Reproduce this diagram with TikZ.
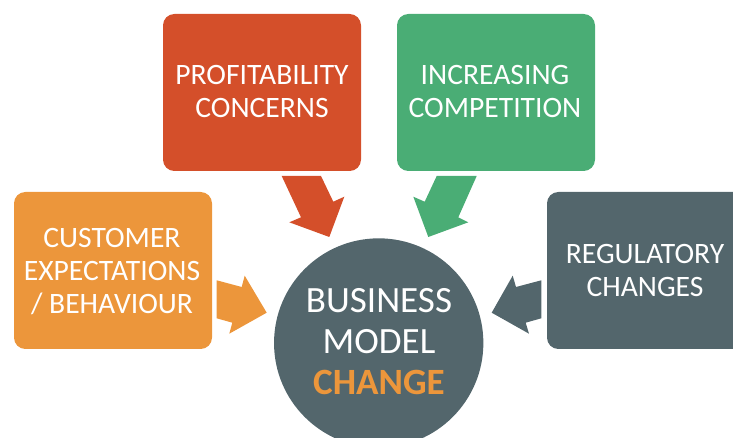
\documentclass[tikz,border=0pt]{standalone}
\usepackage{fontspec}
\setmainfont{Carlito}
\definecolor{cred}{HTML}{D44F2A}
\definecolor{cgreen}{HTML}{4AAD75}
\definecolor{corange}{HTML}{EC963B}
\definecolor{cslate}{HTML}{53666C}
\tikzset{
  px/.style={x=0.75pt,y=-0.75pt},
  boxtext/.style={text=white,align=center,font=\fontsize{22.2}{24.75}\selectfont},
  hubtext/.style={text=white,align=center,font=\fontsize{27.8}{30.75}\selectfont}
}
\begin{document}
\begin{tikzpicture}[px]
\useasboundingbox (0,0) rectangle (733,438);
\begin{scope}
\clip (0,0) rectangle (733,438);
\fill[cred,rounded corners=8.5pt] (163,14) rectangle (361,171);
\fill[cgreen,rounded corners=8.5pt] (397,14) rectangle (595,171);
\fill[corange,rounded corners=8.5pt] (14,192) rectangle (212,349);
\fill[cslate,rounded corners=8.5pt] (547,192) rectangle (760,349);
\fill[cred] (281.7,176) -- (321,176) -- (333.3,201.7) -- (344.3,196.7) -- (329.3,237) -- (289.3,222.3) -- (301,217.3) -- cycle;
\fill[cgreen] (436.7,176) -- (476.7,176) -- (458.3,217.3) -- (468.3,222.3) -- (428.3,237) -- (413.3,196.7) -- (424.7,201.7) -- cycle;
\fill[corange] (216.7,280.3) -- (241.7,287) -- (244.7,275.7) -- (266.7,312.7) -- (229.3,333.7) -- (232.3,322.7) -- (216.7,318.3) -- cycle;
\fill[cslate] (541.3,280.3) -- (516,287) -- (512.7,275.7) -- (491.7,312.7) -- (529,333.7) -- (525.7,322.7) -- (541.3,318.3) -- cycle;
\node[circle,fill=cslate,minimum size=157pt,inner sep=0pt] (hub) at (378.7,343) {};
\end{scope}
\node[boxtext] (prof) at (262,91.5) {PROFITABILITY\\CONCERNS};
\node[boxtext] (comp) at (495,91.5) {INCREASING\\COMPETITION};
\node[boxtext] (cust) at (112,271.5) {CUSTOMER\\EXPECTATIONS\\/ BEHAVIOUR};
\node[boxtext] (reg) at (645,270) {REGULATORY\\CHANGES};
\node[hubtext] (bm) at (379,321) {BUSINESS\\MODEL};
\node[text=corange,font=\fontsize{27.8}{30.75}\selectfont\bfseries] (chg) at (379,382) {CHANGE};
\end{tikzpicture}
\end{document}
